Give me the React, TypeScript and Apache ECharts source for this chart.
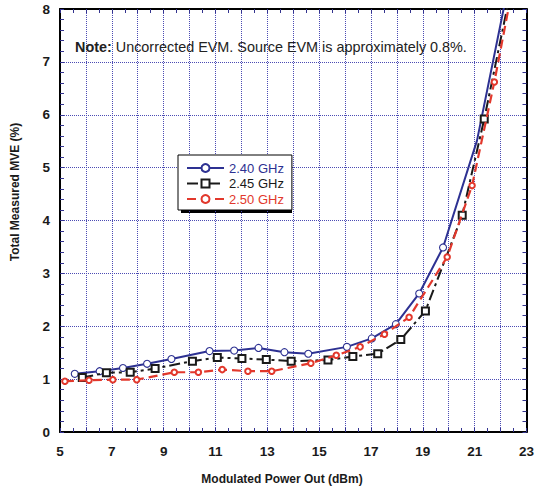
import React, { useEffect, useRef } from "react";
import * as echarts from "echarts";

const xTicks = [5, 7, 9, 11, 13, 15, 17, 19, 21, 23];
const yTicks = [0, 1, 2, 3, 4, 5, 6, 7, 8];

const seriesNames = ["2.40 GHz", "2.45 GHz", "2.50 GHz"];

const blueX = [5.57, 6.53, 7.43, 8.36, 9.3, 10.77, 11.72, 12.66, 13.66, 14.58, 16.07, 17.03, 17.96, 18.86, 19.78, 21.09, 22.2];
const blueY = [1.1, 1.15, 1.21, 1.29, 1.38, 1.53, 1.54, 1.59, 1.51, 1.48, 1.61, 1.77, 2.04, 2.62, 3.49, 5.51, 8.2];
const blueMarked = [1, 1, 1, 1, 1, 1, 1, 1, 1, 1, 1, 1, 1, 1, 1, 0, 0];

const blackX = [5.86, 6.79, 7.71, 8.67, 10.11, 11.07, 12.02, 12.96, 13.92, 15.34, 16.3, 17.26, 18.15, 19.1, 20.52, 21.37, 22.35];
const blackY = [1.03, 1.12, 1.13, 1.2, 1.34, 1.41, 1.39, 1.37, 1.34, 1.36, 1.43, 1.48, 1.75, 2.29, 4.1, 5.92, 8.25];
const blackMarked = [1, 1, 1, 1, 1, 1, 1, 1, 1, 1, 1, 1, 1, 1, 1, 1, 0];

const redX = [5.19, 6.12, 7.04, 7.96, 9.41, 10.34, 11.26, 12.25, 13.17, 14.68, 15.66, 16.58, 17.52, 18.47, 19.94, 20.9, 21.76, 22.4];
const redY = [0.96, 0.98, 0.99, 0.99, 1.13, 1.13, 1.18, 1.15, 1.15, 1.3, 1.45, 1.61, 1.85, 2.17, 3.31, 4.66, 6.62, 8.25];
const redMarked = [1, 1, 1, 1, 1, 1, 1, 1, 1, 1, 1, 1, 1, 1, 1, 1, 1, 0];

const noteBold = "Note:";
const noteText = " Uncorrected EVM. Source EVM is approximately 0.8%.";
const xTitle = "Modulated Power Out (dBm)";
const yTitle = "Total Measured MVE (%)";

const BLUE = "#2d3192";
const BLACK = "#1a1a1a";
const RED = "#e2382c";
const GRID = "#4b4bb4";
const TICK = "#34348f";
const FONT = "'Liberation Sans', Arial, Helvetica, sans-serif";

function build(xs: number[], ys: number[], marks: number[]) {
  return xs.map((x, i) =>
    marks[i] ? { value: [x, ys[i]] } : { value: [x, ys[i]], symbol: "none" }
  );
}

export default function App() {
  const ref = useRef<HTMLDivElement>(null);
  useEffect(() => {
    if (!ref.current) return;
    const chart = echarts.init(ref.current, null, { renderer: "svg" });
    const axisCommon = {
      type: "value" as const,
      axisLine: { show: true, onZero: false, lineStyle: { color: "#000", width: 2 } },
      axisTick: { show: true, inside: true, length: 4, lineStyle: { color: TICK, width: 1 } },
      minorTick: { show: true, length: 4, lineStyle: { color: TICK, width: 1 } },
    };
    const xmin = xTicks[0];
    const xmax = xTicks[xTicks.length - 1];
    const ymin = yTicks[0];
    const ymax = yTicks[yTicks.length - 1];
    const option = {
      animation: false,
      backgroundColor: "#fff",
      textStyle: { fontFamily: FONT },
      grid: { left: 60, right: 6, top: 9, bottom: 59, containLabel: false },
      xAxis: [
        {
          ...axisCommon,
          position: "bottom",
          min: xmin,
          max: xmax,
          interval: 1,
          minorTick: { ...axisCommon.minorTick, splitNumber: 2 },
          splitLine: { show: true, lineStyle: { color: GRID, type: "dotted", width: 1 } },
          axisLabel: {
            formatter: (v: number) => (xTicks.includes(v) ? String(v) : ""),
            fontFamily: FONT,
            fontWeight: "bold",
            fontSize: 13.5,
            color: "#1a1a1a",
            margin: 12,
          },
        },
        {
          ...axisCommon,
          position: "top",
          min: xmin,
          max: xmax,
          interval: 1,
          minorTick: { ...axisCommon.minorTick, splitNumber: 2 },
          splitLine: { show: false },
          axisLabel: { show: false },
        },
      ],
      yAxis: [
        {
          ...axisCommon,
          position: "left",
          min: ymin,
          max: ymax,
          interval: 1,
          minorTick: { ...axisCommon.minorTick, splitNumber: 5 },
          splitLine: { show: true, lineStyle: { color: GRID, type: "dotted", width: 1 } },
          axisLabel: {
            formatter: (v: number) => (yTicks.includes(v) ? String(v) : ""),
            fontFamily: FONT,
            fontWeight: "bold",
            fontSize: 13.5,
            color: "#1a1a1a",
            margin: 10,
          },
        },
        {
          ...axisCommon,
          position: "right",
          min: ymin,
          max: ymax,
          interval: 1,
          minorTick: { ...axisCommon.minorTick, splitNumber: 5 },
          splitLine: { show: false },
          axisLabel: { show: false },
        },
      ],
      legend: {
        orient: "vertical",
        left: 178,
        top: 155,
        width: 110,
        padding: [6, 8, 4, 8],
        itemGap: 1.5,
        itemWidth: 37,
        itemHeight: 10,
        backgroundColor: "#fff",
        borderColor: "#000",
        borderWidth: 1,
        borderRadius: 0,
        textStyle: { fontFamily: FONT, fontSize: 13, lineHeight: 14 },
        data: [
          { name: seriesNames[0], textStyle: { color: BLUE } },
          { name: seriesNames[1], textStyle: { color: BLACK } },
          { name: seriesNames[2], textStyle: { color: RED } },
        ],
      },
      graphic: [
        {
          type: "rect",
          z: 0,
          shape: { x: 181, y: 158, width: 111, height: 55 },
          style: { fill: "#000" },
        },
        {
          type: "text",
          x: 75,
          y: 47,
          z: 10,
          style: {
            text: "{b|" + noteBold + "}{n|" + noteText + "}",
            verticalAlign: "middle",
            align: "left",
            rich: {
              b: { fontFamily: FONT, fontWeight: "bold", fontSize: 14.4, fill: "#222" },
              n: { fontFamily: FONT, fontSize: 14.4, fill: "#222" },
            },
          },
        },
        {
          type: "text",
          x: 282,
          y: 479,
          style: {
            text: xTitle,
            align: "center",
            verticalAlign: "middle",
            fontFamily: FONT,
            fontWeight: "bold",
            fontSize: 12,
            fill: "#1a1a1a",
          },
        },
        {
          type: "text",
          x: 15,
          y: 192,
          rotation: Math.PI / 2,
          style: {
            text: yTitle,
            align: "center",
            verticalAlign: "middle",
            fontFamily: FONT,
            fontWeight: "bold",
            fontSize: 12,
            fill: "#1a1a1a",
          },
        },
      ],
      series: [
        {
          name: seriesNames[0],
          type: "line",
          clip: true,
          data: build(blueX, blueY, blueMarked),
          symbol: "circle",
          symbolSize: 7,
          color: BLUE,
          lineStyle: { color: BLUE, width: 2, type: "solid" },
          itemStyle: { color: "#fff", borderColor: BLUE, borderWidth: 1.1 },
          z: 2,
        },
        {
          name: seriesNames[1],
          type: "line",
          clip: true,
          data: build(blackX, blackY, blackMarked),
          symbol: "rect",
          symbolSize: 7,
          color: BLACK,
          lineStyle: { color: BLACK, width: 2, type: [11, 4, 3, 4] },
          itemStyle: { color: "#fff", borderColor: BLACK, borderWidth: 2 },
          z: 3,
        },
        {
          name: seriesNames[2],
          type: "line",
          clip: true,
          data: build(redX, redY, redMarked),
          symbol: "circle",
          symbolSize: 5.5,
          color: RED,
          lineStyle: { color: RED, width: 2.2, type: [9, 5] },
          itemStyle: { color: "#fff", borderColor: RED, borderWidth: 2 },
          z: 4,
        },
      ],
    };
    chart.setOption(option as any);
    return () => chart.dispose();
  }, []);
  return (
    <div
      ref={ref}
      style={{ position: "fixed", left: 0, top: 0, width: 537, height: 491, background: "#fff" }}
    />
  );
}
